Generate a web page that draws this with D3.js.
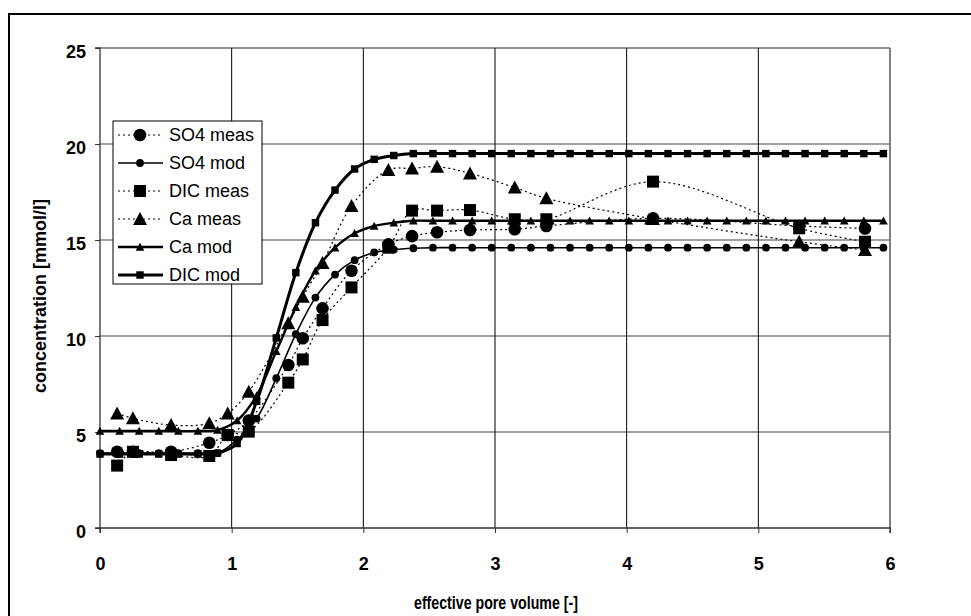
<!DOCTYPE html>
<html><head><meta charset="utf-8">
<script src="https://cdn.jsdelivr.net/npm/d3@7"></script>
<style>
html,body{margin:0;padding:0;background:#fff;}
svg{display:block;font-family:"Liberation Sans",Arial,sans-serif;}
</style></head><body>
<svg id="chart" width="971" height="616"></svg>
<script>
// ---- data ----
const xTicks = [0,1,2,3,4,5,6];
const yTicks = [0,5,10,15,20,25];
const modelStep = 0.14875;
const modelX = d3.range(41).map(k => k*modelStep);
const so4Mod = [3.9,3.9,3.9,3.9,3.9,3.9,3.9,4.6,5.7,7.8,10.1,12.0,13.2,13.95,14.35,14.5,14.57,14.6,14.6,14.6,14.6,14.6,14.6,14.6,14.6,14.6,14.6,14.6,14.6,14.6,14.6,14.6,14.6,14.6,14.6,14.6,14.6,14.6,14.6,14.6,14.6];
const caMod  = [5.05,5.05,5.05,5.05,5.05,5.05,5.1,5.6,6.9,9.2,11.5,13.4,14.6,15.35,15.73,15.9,16.0,16.0,16.0,16.0,16.0,16.0,16.0,16.0,16.0,16.0,16.0,16.0,16.0,16.0,16.0,16.0,16.0,16.0,16.0,16.0,16.0,16.0,16.0,16.0,16.0];
const dicMod = [3.85,3.85,3.85,3.85,3.85,3.85,3.9,4.4,6.6,9.9,13.3,15.9,17.6,18.7,19.2,19.4,19.5,19.5,19.5,19.5,19.5,19.5,19.5,19.5,19.5,19.5,19.5,19.5,19.5,19.5,19.5,19.5,19.5,19.5,19.5,19.5,19.5,19.5,19.5,19.5,19.5];
const measX   = [0.13,0.25,0.54,0.83,0.97,1.13,1.43,1.54,1.69,1.91,2.19,2.37,2.56,2.81,3.15,3.39,4.2,5.31,5.81];
const so4Meas = [3.97,3.97,3.97,4.44,4.84,5.6,8.49,9.88,11.44,13.4,14.77,15.2,15.4,15.52,15.56,15.73,16.13,15.73,15.6];
const dicMeas = [3.25,3.97,3.8,3.75,4.84,5.02,7.57,8.78,10.83,12.53,14.6,16.53,16.53,16.56,16.08,16.08,18.04,15.61,14.91];
const caMeas  = [5.97,5.71,5.36,5.45,5.97,7.1,10.66,12.05,13.8,16.77,18.65,18.73,18.82,18.47,17.73,17.17,16.1,14.91,14.48];

const series = [
  {name:"SO4 meas", xs:measX,  ys:so4Meas, sym:"circle",   big:true,  dash:true,  lw:1.2},
  {name:"SO4 mod",  xs:modelX, ys:so4Mod,  sym:"circle",   big:false, dash:false, lw:1.6},
  {name:"DIC meas", xs:measX,  ys:dicMeas, sym:"square",   big:true,  dash:true,  lw:1.2},
  {name:"Ca meas",  xs:measX,  ys:caMeas,  sym:"triangle", big:true,  dash:true,  lw:1.2},
  {name:"Ca mod",   xs:modelX, ys:caMod,   sym:"triangle", big:false, dash:false, lw:2.4},
  {name:"DIC mod",  xs:modelX, ys:dicMod,  sym:"square",   big:false, dash:false, lw:3}
];

// ---- layout ----
const svg = d3.select("#chart");
const L=100, R=890, T=48, B=528;
const x = d3.scaleLinear().domain([0,6]).range([L,R]);
const y = d3.scaleLinear().domain([0,25]).range([B,T]);

// outer frame
svg.append("rect").attr("x",9).attr("y",14).attr("width",1000).attr("height",700)
  .attr("fill","none").attr("stroke","#000").attr("stroke-width",2);

// gridlines
const g = svg.append("g");
g.selectAll(".hg").data(yTicks.filter(v=>v>0 && v<25)).join("line")
  .attr("x1",L).attr("x2",R).attr("y1",d=>y(d)).attr("y2",d=>y(d))
  .attr("stroke","#808080").attr("stroke-width",1.5);
g.selectAll(".vg").data(xTicks.filter(v=>v>0 && v<6)).join("line")
  .attr("x1",d=>x(d)).attr("x2",d=>x(d)).attr("y1",T).attr("y2",B)
  .attr("stroke","#000").attr("stroke-width",1);
// plot border
g.append("line").attr("x1",L).attr("x2",R).attr("y1",T).attr("y2",T).attr("stroke","#222").attr("stroke-width",1.2);
g.append("line").attr("x1",R).attr("x2",R).attr("y1",T).attr("y2",B).attr("stroke","#808080").attr("stroke-width",2);

// axes
const xAxis = d3.axisBottom(x).tickValues(xTicks).tickSize(5).tickPadding(24).tickFormat(d3.format("d"));
const yAxis = d3.axisLeft(y).tickValues(yTicks).tickSize(5).tickPadding(9).tickFormat(d3.format("d"));
const gx = svg.append("g").attr("transform",`translate(0,${B})`).call(xAxis);
const gy = svg.append("g").attr("transform",`translate(${L},0)`).call(yAxis);
[gx,gy].forEach(a=>{
  a.select(".domain").attr("stroke","#333").attr("stroke-width",1.3);
  a.selectAll(".tick line").attr("stroke","#333");
  a.selectAll("text").attr("font-family","'Liberation Sans',Arial,sans-serif")
    .attr("font-size",18).attr("font-weight","bold").attr("fill","#000");
});
gy.selectAll(".tick text").attr("dy","0.55em");
gy.select(".domain").attr("d",`M-5,${T}H0V${B}H-5`);
gx.select(".domain").attr("d",`M${L},5V0H${R}V5`);

svg.append("text").attr("x",496).attr("y",609).attr("text-anchor","middle")
  .attr("font-size",18).attr("font-weight","bold")
  .attr("textLength",164).attr("lengthAdjust","spacingAndGlyphs")
  .text("effective pore volume [-]");
svg.append("text").attr("transform",`translate(46,296) rotate(-90)`).attr("text-anchor","middle")
  .attr("font-size",18).attr("font-weight","bold").text("concentration [mmol/l]");

// symbols
function drawSym(sel, sym, big){
  const s = big ? 1 : 0.62;
  if(sym==="circle") sel.append("circle").attr("r",6.3*s);
  else if(sym==="square") sel.append("rect").attr("x",-6*s).attr("y",-6*s).attr("width",12*s).attr("height",12*s);
  else sel.append("path").attr("d",`M0,${-7*s}L${7*s},${6*s}L${-7*s},${6*s}Z`);
}

const line = d3.line().x(d=>x(d[0])).y(d=>y(d[1])).curve(d3.curveCatmullRom.alpha(0.5));
const plot = svg.append("g");
series.forEach(s=>{
  const pts = s.xs.map((v,i)=>[v,s.ys[i]]);
  plot.append("path").attr("d",line(pts)).attr("fill","none").attr("stroke","#000")
    .attr("stroke-width",s.lw).attr("stroke-dasharray",s.dash?"2,3":null);
  plot.selectAll(null).data(pts).join("g")
    .attr("transform",d=>`translate(${x(d[0])},${y(d[1])})`)
    .each(function(){ drawSym(d3.select(this), s.sym, s.big); })
    .attr("fill","#000");
});

// legend
const lg = svg.append("g").attr("transform","translate(113,121)");
lg.append("rect").attr("width",149).attr("height",163).attr("fill","#fff").attr("stroke","#000").attr("stroke-width",1);
series.forEach((s,i)=>{
  const yy = 14 + i*28;
  lg.append("line").attr("x1",5).attr("x2",50).attr("y1",yy).attr("y2",yy)
    .attr("stroke","#000").attr("stroke-width",s.lw).attr("stroke-dasharray",s.dash?"2,3":null);
  const m = lg.append("g").attr("transform",`translate(27,${yy})`).attr("fill","#000");
  drawSym(m, s.sym, s.big);
  lg.append("text").attr("x",56).attr("y",yy+6).attr("font-size",18).text(s.name);
});
</script>
</body></html>
